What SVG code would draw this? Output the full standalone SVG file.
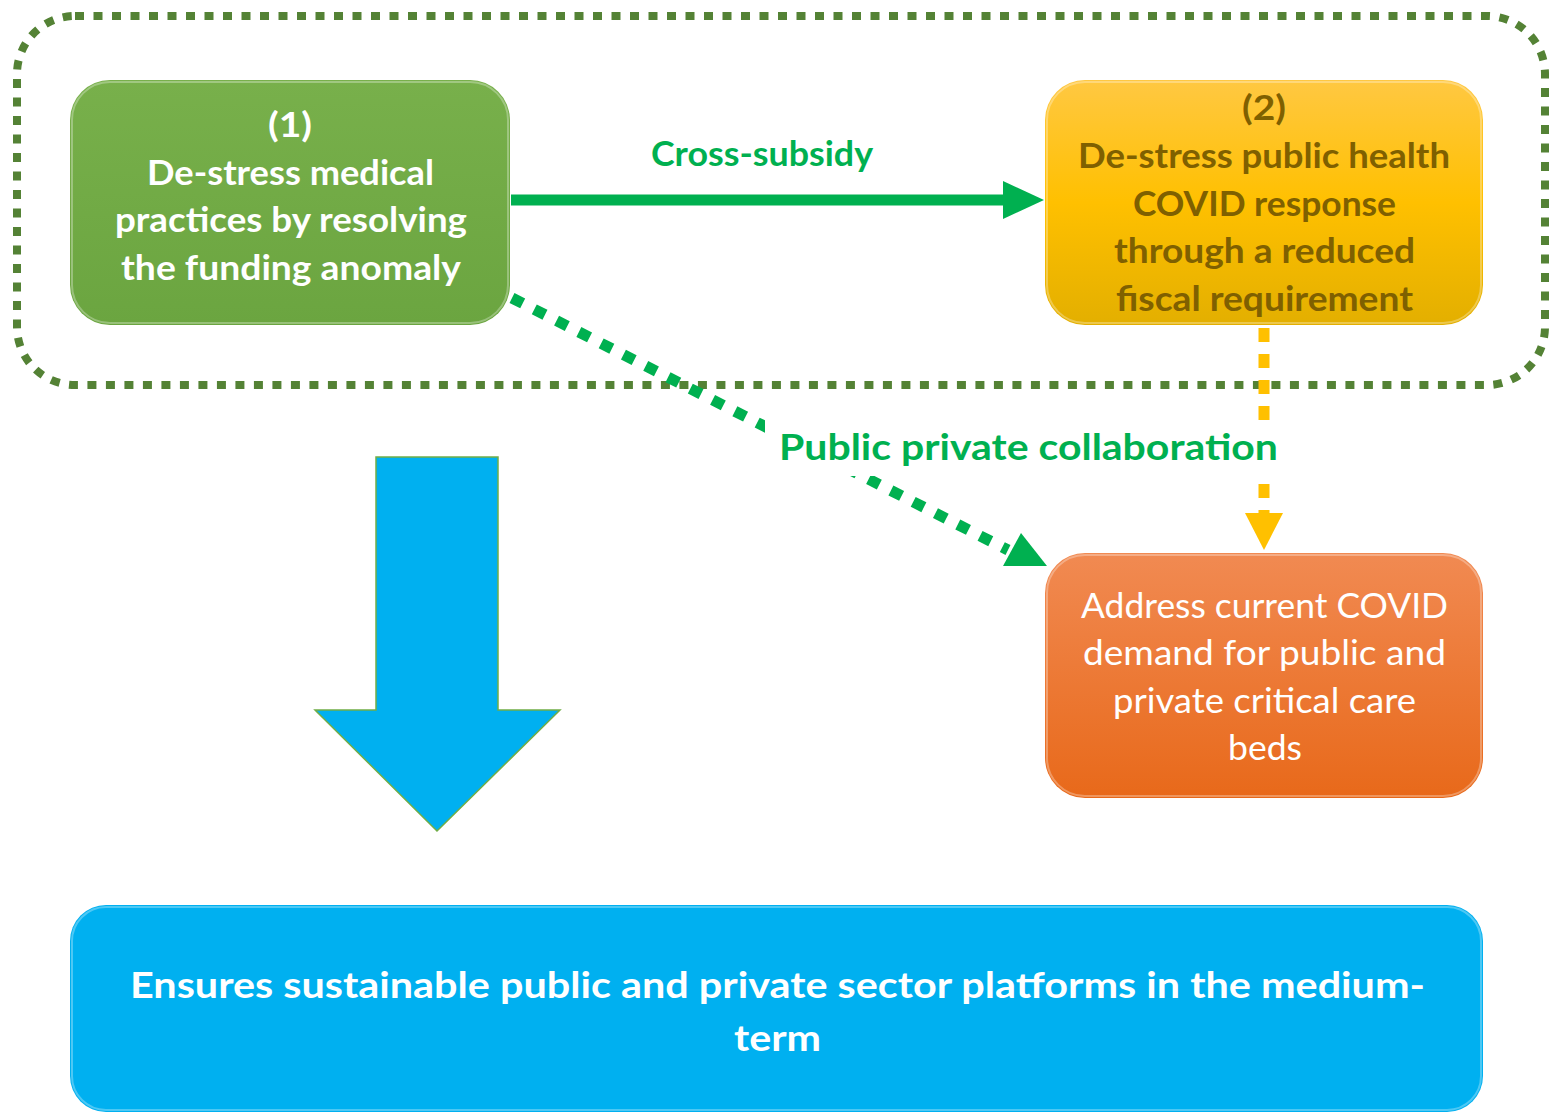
<svg xmlns="http://www.w3.org/2000/svg" width="1552" height="1112" viewBox="0 0 1552 1112">
  <style>
    .t { font-family: Lato, "Open Sans", "Liberation Sans", sans-serif; text-anchor: start; }
    .b { font-weight: bold; }
    .w { fill: #FFFFFF; }
    .olive { fill: #7F6000; }
    .lbl { fill: #00B050; font-weight: bold; }
    .rim { fill: none; stroke: #FFFFFF; stroke-opacity: 0.3; stroke-width: 2; }
  </style>
  <defs>
    <linearGradient id="gGreen" x1="0" y1="0" x2="0" y2="1">
      <stop offset="0" stop-color="#78B04B"/>
      <stop offset="1" stop-color="#6BA540"/>
    </linearGradient>
    <linearGradient id="gYellow" x1="0" y1="0" x2="0" y2="1">
      <stop offset="0" stop-color="#FFC842"/>
      <stop offset="0.5" stop-color="#FFC000"/>
      <stop offset="1" stop-color="#E3AF00"/>
    </linearGradient>
    <linearGradient id="gOrange" x1="0" y1="0" x2="0" y2="1">
      <stop offset="0" stop-color="#F18A52"/>
      <stop offset="1" stop-color="#E8691A"/>
    </linearGradient>
  </defs>

  <!-- dotted boundary around the two upper initiatives -->
  <g id="grouping">
    <rect x="17" y="16" width="1528" height="369" rx="58" fill="none" stroke="#548235" stroke-width="8" stroke-dasharray="9 9.5"/>
  </g>

  <!-- connectors -->
  <g id="connectors">
    <!-- Cross-subsidy -->
    <line x1="511" y1="200" x2="1006" y2="200" stroke="#00B050" stroke-width="11"/>
    <polygon points="1003,181 1044,200 1003,219" fill="#00B050"/>
    <text class="t lbl" x="651" y="166" font-size="34" textLength="222" lengthAdjust="spacingAndGlyphs">Cross-subsidy</text>

    <!-- Public private collaboration -->
    <line x1="512" y1="298" x2="1008" y2="550" stroke="#00B050" stroke-width="11" stroke-dasharray="12 13"/>
    <polygon points="1021,533 1047,566 1003,566" fill="#00B050"/>

    <!-- (2) to beds -->
    <line x1="1264" y1="328" x2="1264" y2="514" stroke="#FFC000" stroke-width="11" stroke-dasharray="14 12"/>
    <polygon points="1245,513 1283,513 1264,550" fill="#FFC000"/>

    <rect x="765" y="420" width="522" height="56" fill="#FFFFFF"/>
    <text class="t lbl" x="779" y="460" font-size="36" textLength="499" lengthAdjust="spacingAndGlyphs">Public private collaboration</text>

    <!-- block arrow down to the outcome -->
    <polygon points="376,457 498,457 498,710 560,710 437,831 315,710 376,710" fill="#00B0F0" stroke="#70AD47" stroke-width="1.5"/>
  </g>

  <!-- (1) -->
  <g id="node-1">
    <rect x="70" y="80" width="440" height="245" rx="40" fill="url(#gGreen)"/>
    <rect x="72" y="82" width="436" height="241" rx="38" class="rim"/>
    <text class="t b w" font-size="35">
      <tspan x="268" y="137" textLength="44" lengthAdjust="spacingAndGlyphs">(1)</tspan>
      <tspan x="147" y="185" textLength="287" lengthAdjust="spacingAndGlyphs">De-stress medical</tspan>
      <tspan x="115" y="232" textLength="352" lengthAdjust="spacingAndGlyphs">practices by resolving</tspan>
      <tspan x="121" y="280" textLength="340" lengthAdjust="spacingAndGlyphs">the funding anomaly</tspan>
    </text>
  </g>

  <!-- (2) -->
  <g id="node-2">
    <rect x="1045" y="80" width="438" height="245" rx="40" fill="url(#gYellow)"/>
    <rect x="1047" y="82" width="434" height="241" rx="38" class="rim"/>
    <text class="t b olive" font-size="35">
      <tspan x="1242" y="120" textLength="44" lengthAdjust="spacingAndGlyphs">(2)</tspan>
      <tspan x="1078" y="168" textLength="372" lengthAdjust="spacingAndGlyphs">De-stress public health</tspan>
      <tspan x="1133" y="216" textLength="263" lengthAdjust="spacingAndGlyphs">COVID response</tspan>
      <tspan x="1114" y="263" textLength="301" lengthAdjust="spacingAndGlyphs">through a reduced</tspan>
      <tspan x="1116" y="311" textLength="297" lengthAdjust="spacingAndGlyphs">fiscal requirement</tspan>
    </text>
  </g>

  <!-- critical care beds -->
  <g id="node-beds">
    <rect x="1045" y="553" width="438" height="245" rx="40" fill="url(#gOrange)"/>
    <rect x="1047" y="555" width="434" height="241" rx="38" class="rim"/>
    <text class="t w" font-size="35">
      <tspan x="1081" y="618" textLength="367" lengthAdjust="spacingAndGlyphs">Address current COVID</tspan>
      <tspan x="1083" y="665" textLength="363" lengthAdjust="spacingAndGlyphs">demand for public and</tspan>
      <tspan x="1113" y="713" textLength="303" lengthAdjust="spacingAndGlyphs">private critical care</tspan>
      <tspan x="1228" y="760" textLength="74" lengthAdjust="spacingAndGlyphs">beds</tspan>
    </text>
  </g>

  <!-- outcome -->
  <g id="node-outcome">
    <rect x="70" y="905" width="1413" height="207" rx="36" fill="#00B0F0"/>
    <rect x="72" y="907" width="1409" height="203" rx="34" class="rim"/>
    <text class="t b w" font-size="37">
      <tspan x="130" y="998" textLength="1295" lengthAdjust="spacingAndGlyphs">Ensures sustainable public and private sector platforms in the medium-</tspan>
      <tspan x="734" y="1051" textLength="87" lengthAdjust="spacingAndGlyphs">term</tspan>
    </text>
  </g>
</svg>
